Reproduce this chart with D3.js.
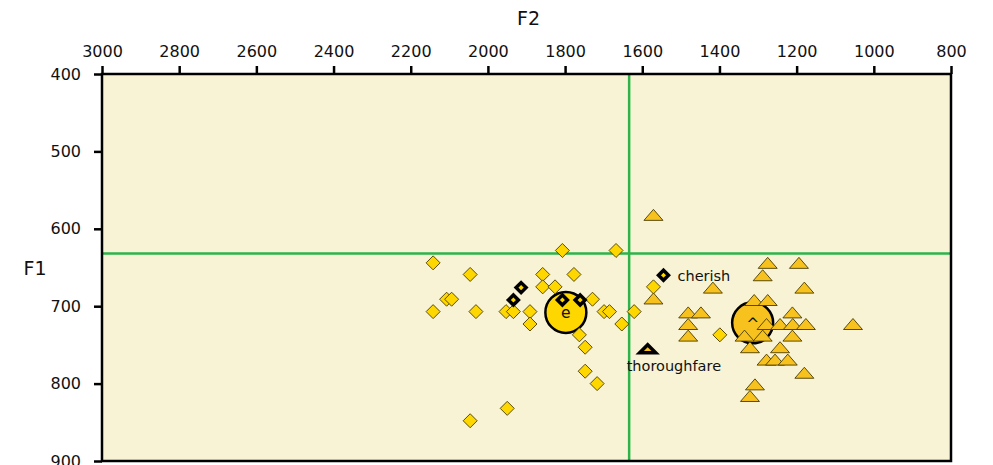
<!DOCTYPE html>
<html>
<head>
<meta charset="utf-8">
<script src="https://cdn.jsdelivr.net/npm/d3@7"></script>
<style>
  html, body { margin: 0; padding: 0; background: #ffffff; }
  svg { display: block; }
  text { font-family: "DejaVu Sans", Verdana, sans-serif; fill: #111; }
</style>
</head>
<body>
<svg id="chart" width="993" height="465"></svg>
<script>
// Vowel space: F2 (Hz) along the top, F1 (Hz) down the left side.
const xTicks = [3000, 2800, 2600, 2400, 2200, 2000, 1800, 1600, 1400, 1200, 1000, 800];
const yTicks = [400, 500, 600, 700, 800, 900];

// /e/ tokens, [F2, F1]
const eTokens = [
  [2142, 644], [2046, 659], [1807, 628], [1668, 628], [1858, 659], [1777, 659],
  [1858, 675], [1826, 675], [2107, 691], [2094, 691], [2142, 707], [2031, 707],
  [1953, 707], [1934, 707], [1891, 707], [1891, 723], [1729, 691], [1699, 707],
  [1685, 707], [1621, 707], [1653, 723], [1763, 737], [1748, 753], [1748, 784],
  [1717, 800], [1950, 832], [2046, 848], [1571, 675], [1399, 737]
];
// highlighted /e/ tokens
const eHighlight = [[1914, 676], [1934, 692], [1807, 692], [1761, 692]];
const eLabelled = [{ word: "cherish", f2: 1545, f1: 660 }];

// /ʌ/ tokens, [F2, F1]
const vTokens = [
  [1571, 582], [1275, 644], [1194, 644], [1288, 660], [1417, 676], [1180, 676],
  [1571, 690], [1310, 692], [1275, 692], [1481, 708], [1448, 708], [1211, 708],
  [1481, 723], [1278, 723], [1243, 723], [1210, 723], [1176, 723], [1054, 723],
  [1481, 738], [1335, 738], [1288, 738], [1211, 738], [1321, 753], [1243, 753],
  [1278, 769], [1256, 769], [1223, 769], [1180, 786], [1308, 801], [1321, 816]
];
const vLabelled = [{ word: "thoroughfare", f2: 1586, f1: 755 }];

// vowel means
const means = [
  { label: "e", f2: 1798, f1: 708, fill: "#FFD700" },
  { label: "^", f2: 1314, f1: 721.5, fill: "#F8C21E" }
];
// reference lines (grand means)
const refF2 = 1634;
const refF1 = 632;

const svg = d3.select("#chart");
const plot = { left: 102, right: 951, top: 74, bottom: 461 };

const x = d3.scaleLinear().domain([3000, 800]).range([plot.left, plot.right]);
const y = d3.scaleLinear().domain([400, 900]).range([plot.top, plot.bottom]);

const bg = "#F8F3D5";
const diamondFill = "#FFD700";
const triFill = "#F8C21E";
const markStroke = "#4a3c00";

// plot background
svg.append("rect")
  .attr("x", plot.left).attr("y", plot.top)
  .attr("width", plot.right - plot.left).attr("height", plot.bottom - plot.top)
  .attr("fill", bg);

// reference lines
svg.append("line")
  .attr("x1", x(refF2)).attr("x2", x(refF2))
  .attr("y1", plot.top).attr("y2", plot.bottom)
  .attr("stroke", "#2DB34A").attr("stroke-width", 2.5);
svg.append("line")
  .attr("x1", plot.left).attr("x2", plot.right)
  .attr("y1", y(refF1)).attr("y2", y(refF1))
  .attr("stroke", "#2DB34A").attr("stroke-width", 2.5);

// means
const mg = svg.append("g").selectAll("g").data(means).join("g")
  .attr("transform", d => `translate(${x(d.f2)},${y(d.f1)})`);
mg.append("circle").attr("r", 20.5)
  .attr("fill", d => d.fill).attr("stroke", "#000").attr("stroke-width", 2.5);
mg.append("text").attr("text-anchor", "middle").attr("dy", "0.38em")
  .style("font-size", "15.5px").text(d => d.label);

const diamond = "M0,-7L7,0L0,7L-7,0Z";
const triangle = "M0,-5.5L9.5,5.5L-9.5,5.5Z";

// /e/ tokens
svg.append("g").selectAll("path").data(eTokens).join("path")
  .attr("d", diamond)
  .attr("transform", d => `translate(${x(d[0])},${y(d[1])})`)
  .attr("fill", diamondFill).attr("stroke", markStroke).attr("stroke-width", 0.9);

// /ʌ/ tokens
svg.append("g").selectAll("path").data(vTokens).join("path")
  .attr("d", triangle)
  .attr("transform", d => `translate(${x(d[0])},${y(d[1])})`)
  .attr("fill", triFill).attr("stroke", markStroke).attr("stroke-width", 0.9);

// highlighted tokens
const boldDiamond = "M0,-5L5,0L0,5L-5,0Z";
svg.append("g").selectAll("path")
  .data(eHighlight.concat(eLabelled.map(d => [d.f2, d.f1])))
  .join("path")
  .attr("d", boldDiamond)
  .attr("transform", d => `translate(${x(d[0])},${y(d[1])})`)
  .attr("fill", diamondFill).attr("stroke", "#000").attr("stroke-width", 3.5)
  .attr("stroke-linejoin", "miter");

const boldTri = "M0,-4L8,4L-8,4Z";
svg.append("g").selectAll("path").data(vLabelled).join("path")
  .attr("d", boldTri)
  .attr("transform", d => `translate(${x(d.f2)},${y(d.f1)})`)
  .attr("fill", triFill).attr("stroke", "#000").attr("stroke-width", 3.5);

// word labels
svg.append("g").selectAll("text").data(eLabelled).join("text")
  .attr("x", d => x(d.f2) + 14).attr("y", d => y(d.f1) + 6)
  .style("font-size", "14.5px").text(d => d.word);
svg.append("g").selectAll("text").data(vLabelled).join("text")
  .attr("x", d => x(d.f2) - 21).attr("y", d => y(d.f1) + 22)
  .style("font-size", "14.5px").text(d => d.word);

// frame
svg.append("rect")
  .attr("x", plot.left).attr("y", plot.top)
  .attr("width", plot.right - plot.left).attr("height", plot.bottom - plot.top)
  .attr("fill", "none").attr("stroke", "#000").attr("stroke-width", 2.5);

// axes
const xAxis = svg.append("g").attr("transform", `translate(0,${plot.top})`)
  .call(d3.axisTop(x).tickValues(xTicks).tickFormat(d3.format("d"))
    .tickSize(8).tickPadding(9));
const yAxis = svg.append("g").attr("transform", `translate(${plot.left},0)`)
  .call(d3.axisLeft(y).tickValues(yTicks).tickFormat(d3.format("d"))
    .tickSize(8).tickPadding(13));
[xAxis, yAxis].forEach(a => {
  a.select(".domain").remove();
  a.selectAll(".tick line").attr("stroke", "#000").attr("stroke-width", 2.5);
  a.selectAll(".tick text").style("font-size", "16px")
    .style("font-family", "'DejaVu Sans', Verdana, sans-serif").attr("fill", "#111");
});

// axis titles
svg.append("text").attr("x", (plot.left + plot.right) / 2 + 2).attr("y", 25)
  .attr("text-anchor", "middle").style("font-size", "19px").text("F2");
svg.append("text").attr("x", 35).attr("y", 275)
  .attr("text-anchor", "middle").style("font-size", "19px").text("F1");
</script>
</body>
</html>
